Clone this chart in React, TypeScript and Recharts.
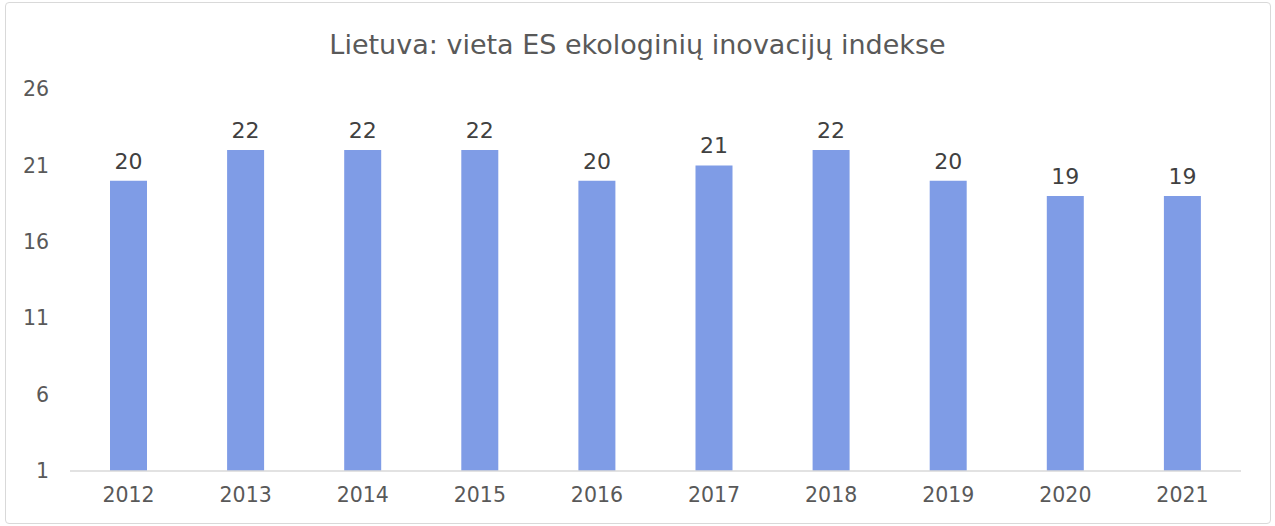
import React from 'react';
import { BarChart, Bar, XAxis, YAxis, LabelList } from 'recharts';

const years = ['2012', '2013', '2014', '2015', '2016', '2017', '2018', '2019', '2020', '2021'];
const ranks = [20, 22, 22, 22, 20, 21, 22, 20, 19, 19];
const yTicks = [1, 6, 11, 16, 21, 26];

const data = years.map((year, i) => ({ year, rank: ranks[i] }));

const font = 'DejaVu Sans, Verdana, sans-serif';
const textColor = '#595959';

const App: React.FC = () => {
  return (
    <div style={{ position: 'absolute', left: 0, top: 0, width: 1275, height: 526, background: '#fff', fontFamily: font }}>
      <div
        style={{
          position: 'absolute',
          left: 5,
          top: 2,
          width: 1264,
          height: 520,
          border: '1px solid #d9d9d9',
          borderRadius: 4,
        }}
      />
      <div
        style={{
          position: 'absolute',
          left: 0,
          top: 28,
          width: 1275,
          textAlign: 'center',
          fontSize: 27,
          lineHeight: '34px',
          color: textColor,
        }}
      >
        Lietuva: vieta ES ekologinių inovacijų indekse
      </div>
      <div style={{ position: 'absolute', left: 0, top: 0 }}>
        <BarChart width={1275} height={526} data={data} margin={{ top: 89, right: 34, bottom: 15, left: 5 }}>
          <XAxis
            dataKey="year"
            height={40}
            tickLine={false}
            axisLine={{ stroke: '#d9d9d9', strokeWidth: 1.5 }}
            tick={{ fill: textColor, fontSize: 20.5, fontFamily: font }}
            tickMargin={10}
          />
          <YAxis
            width={65}
            domain={[1, 26]}
            ticks={yTicks}
            allowDataOverflow
            axisLine={false}
            tickLine={false}
            tickMargin={15}
            tick={{ fill: textColor, fontSize: 20.5, fontFamily: font }}
          />
          <Bar dataKey="rank" fill="#7f9ce6" barSize={37} isAnimationActive={false}>
            <LabelList dataKey="rank" position="top" offset={12} fill="#404040" fontSize={22} fontFamily={font} />
          </Bar>
        </BarChart>
      </div>
    </div>
  );
};

export default App;
